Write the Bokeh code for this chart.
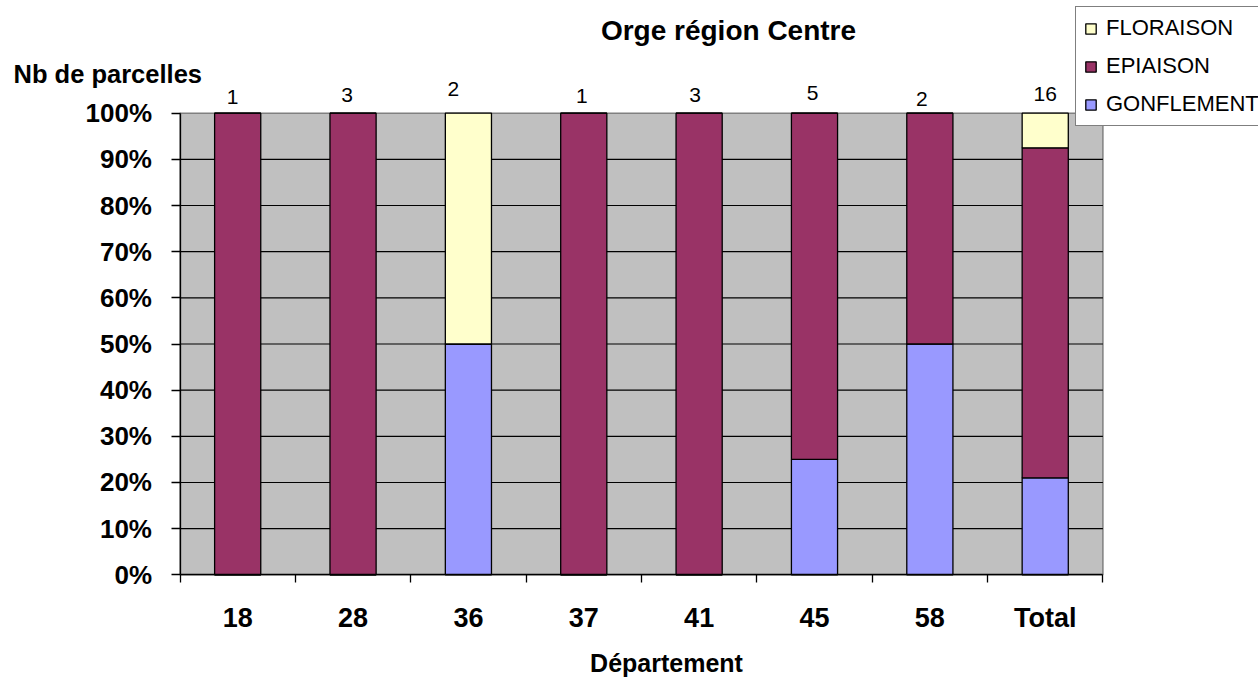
from bokeh.plotting import figure
from bokeh.models import (Range1d, FixedTicker, NumeralTickFormatter, Label, LabelSet,
                          ColumnDataSource, Legend, LegendItem)
from bokeh.core.properties import value
from bokeh.embed import file_html
from bokeh.resources import INLINE

# ---- data ----
departements = ["18", "28", "36", "37", "41", "45", "58", "Total"]
gonflement = [0.0, 0.0, 0.50, 0.0, 0.0, 0.25, 0.50, 0.21]
epiaison = [1.0, 1.0, 0.0, 1.0, 1.0, 0.75, 0.50, 0.715]
floraison = [0.0, 0.0, 0.50, 0.0, 0.0, 0.0, 0.0, 0.075]
nb_parcelles = [1, 3, 2, 1, 3, 5, 2, 16]
y_ticks = [0.0, 0.1, 0.2, 0.3, 0.4, 0.5, 0.6, 0.7, 0.8, 0.9, 1.0]

# ---- layout tweaks (pixel offsets of the count labels) ----
lab_dx = [-5, -6, -15, -2, -4, -2, -8, 0]
lab_dy = [16, 18, 24, 17, 18, 20, 14, 19]

FONT = "Liberation Sans"
C_GONF = "#9999FF"
C_EPI = "#993366"
C_FLO = "#FFFFCC"

W, H = 1258, 677
# plot area in canvas pixels
PL, PR, PT, PB = 179.5, 1102.4, 112.7, 574.3
n = len(departements)
sx = (PR - PL) / n
sy = (PB - PT) / 1.0

xc = [i + 0.5 for i in range(n)]
src = ColumnDataSource(dict(x=xc, gonf=gonflement, epi=epiaison, flo=floraison))

p = figure(width=W, height=H, output_backend="svg", toolbar_location=None, title=None,
           x_range=Range1d(-PL / sx, (W - PL) / sx),
           y_range=Range1d((PB - H) / sy, PB / sy),
           min_border=0, min_border_left=0, min_border_right=0,
           min_border_top=0, min_border_bottom=0)
p.outline_line_color = None
p.background_fill_color = "white"
p.border_fill_color = "white"
p.xgrid.visible = False
p.ygrid.visible = False

# plot area background
p.quad(left=[0], right=[n], bottom=[y_ticks[0]], top=[y_ticks[-1]],
       fill_color="#C0C0C0", line_color="#808080", line_width=1.5)
# horizontal grid lines
inner = y_ticks[1:-1]
p.segment(x0=[0] * len(inner), x1=[n] * len(inner), y0=inner, y1=inner,
          line_color="black", line_width=1.2)

rs = p.vbar_stack(["gonf", "epi", "flo"], x="x", width=0.4, source=src,
                  fill_color=[C_GONF, C_EPI, C_FLO], line_color="black", line_width=1.3)

# y axis
ya = p.yaxis[0]
ya.fixed_location = 0
ya.bounds = (0, 1)
ya.ticker = FixedTicker(ticks=y_ticks)
ya.formatter = NumeralTickFormatter(format="0%")
ya.major_tick_out = 9
ya.major_tick_in = 0
ya.minor_tick_out = 0
ya.minor_tick_in = 0
ya.axis_line_color = "black"
ya.axis_line_width = 1.3
ya.major_tick_line_color = "black"
ya.major_tick_line_width = 1.3
ya.major_label_text_font = FONT
ya.major_label_text_font_style = "bold"
ya.major_label_text_font_size = "26px"
ya.major_label_text_color = "black"
ya.major_label_standoff = 19

# x axis
xa = p.xaxis[0]
xa.fixed_location = 0
xa.bounds = (0, n)
xa.ticker = FixedTicker(ticks=xc, minor_ticks=list(range(n + 1)))
xa.major_label_overrides = {x: d for x, d in zip(xc, departements)}
xa.major_tick_out = 0
xa.major_tick_in = 0
xa.minor_tick_out = 8
xa.minor_tick_in = 0
xa.minor_tick_line_color = "black"
xa.minor_tick_line_width = 1.3
xa.axis_line_color = "black"
xa.axis_line_width = 1.3
xa.major_label_text_font = FONT
xa.major_label_text_font_style = "bold"
xa.major_label_text_font_size = "27px"
xa.major_label_text_color = "black"
xa.major_label_standoff = 20

# count labels above bars
lsrc = ColumnDataSource(dict(x=xc, y=[y_ticks[-1]] * n, t=[str(v) for v in nb_parcelles],
                             dx=lab_dx, dy=lab_dy))
p.add_layout(LabelSet(x="x", y="y", text="t", source=lsrc, x_offset="dx", y_offset="dy",
                      text_align="center", text_baseline="middle",
                      text_font=value(FONT), text_font_size=value("21px"),
                      text_color="black"))

# texts
p.add_layout(Label(x=(728 - PL) / sx, y=(PB - 30) / sy, text="Orge région Centre",
                   text_align="center", text_baseline="middle", text_font=FONT,
                   text_font_style="bold", text_font_size="28px", text_color="black"))
p.add_layout(Label(x=(13 - PL) / sx, y=(PB - 73) / sy, text="Nb de parcelles",
                   text_align="left", text_baseline="middle", text_font=FONT,
                   text_font_style="bold", text_font_size="25.5px", text_color="black"))
p.add_layout(Label(x=(666 - PL) / sx, y=(PB - 662) / sy, text="Département",
                   text_align="center", text_baseline="middle", text_font=FONT,
                   text_font_style="bold", text_font_size="25px", text_color="black"))

# legend (bottom-left corner given in canvas pixels from bottom-left)
legend = Legend(items=[LegendItem(label="FLORAISON", renderers=[rs[2]]),
                       LegendItem(label="EPIAISON", renderers=[rs[1]]),
                       LegendItem(label="GONFLEMENT", renderers=[rs[0]])],
                location=(1075, H - 126), orientation="vertical",
                border_line_color="black", border_line_width=1.3,
                background_fill_color="white", background_fill_alpha=1.0,
                padding=8, spacing=12, margin=0,
                glyph_width=13, glyph_height=13, label_height=24, label_standoff=9,
                label_width=175,
                label_text_font=FONT, label_text_font_size="22px", label_text_color="black")
p.add_layout(legend, "center")

open("out.html", "w").write(file_html(p, INLINE))
